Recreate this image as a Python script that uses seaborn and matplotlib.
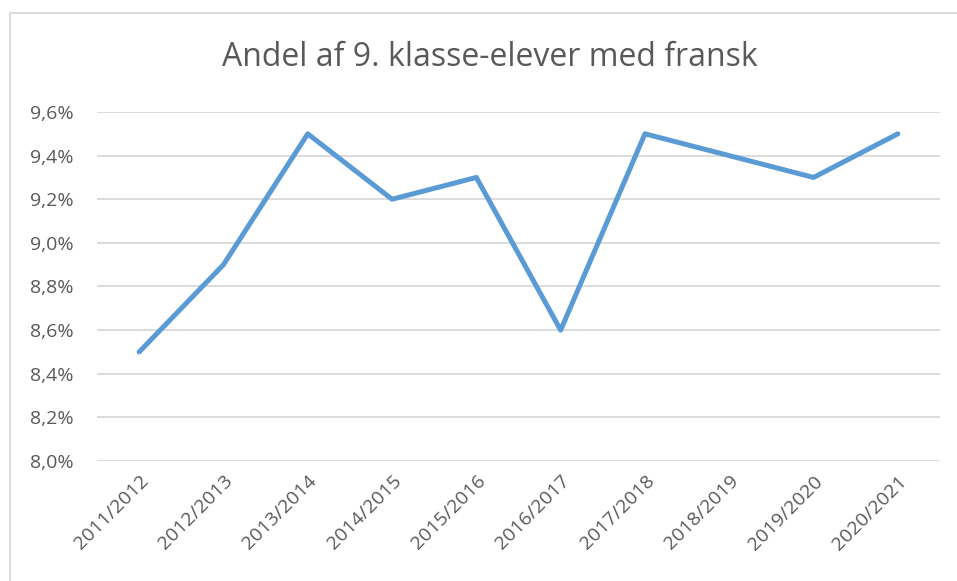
import pandas as pd
import matplotlib.pyplot as plt
import seaborn as sns
from matplotlib.patches import Rectangle
from matplotlib.ticker import FuncFormatter

# data
years = ["2011/2012", "2012/2013", "2013/2014", "2014/2015", "2015/2016",
         "2016/2017", "2017/2018", "2018/2019", "2019/2020", "2020/2021"]
andel = [8.5, 8.9, 9.5, 9.2, 9.3, 8.6, 9.5, 9.4, 9.3, 9.5]

df = pd.DataFrame({"Skoleår": years, "Andel": andel})

sns.set_style("white")
plt.rcParams["font.family"] = ["Open Sans", "DejaVu Sans"]

fig = plt.figure(figsize=(9.57, 5.81), dpi=100)
ax = fig.add_axes([97 / 957, 1 - 461 / 581, (940 - 97) / 957, (461 - 112) / 581])

sns.lineplot(data=df, x="Skoleår", y="Andel", ax=ax, color="#5B9BD5",
             linewidth=3.6, sort=False)

# axes styling
ax.set_ylim(8.0, 9.6)
ax.set_yticks([8.0, 8.2, 8.4, 8.6, 8.8, 9.0, 9.2, 9.4, 9.6])
ax.yaxis.set_major_formatter(FuncFormatter(lambda v, p: f"{v:.1f}%".replace(".", ",")))
ax.set_xlim(-0.5, len(years) - 0.5)
ax.grid(axis="y", color="#D9D9D9", linewidth=1.3)
ax.set_axisbelow(True)
for s in ax.spines.values():
    s.set_visible(False)
ax.tick_params(axis="both", length=0, labelsize=14, labelcolor="#595959")
ax.tick_params(axis="y", pad=17)
ax.tick_params(axis="x", pad=8)
plt.setp(ax.get_xticklabels(), rotation=45, ha="right", rotation_mode="anchor")
ax.set_xlabel("")
ax.set_ylabel("")

fig.text(490 / 957, 1 - 57 / 581, "Andel af 9. klasse-elever med fransk",
         ha="center", va="center", fontsize=23, color="#595959")

# chart frame
fig.patches.append(Rectangle((10 / 957, -0.1), 1.0, 1.1 - 13 / 581,
                             transform=fig.transFigure, fill=False,
                             edgecolor="#D9D9D9", linewidth=1.3))

plt.savefig("out.png", dpi=100)
